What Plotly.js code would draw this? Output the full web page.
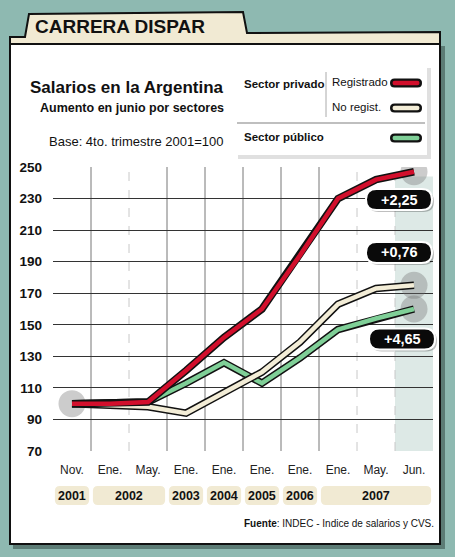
<!DOCTYPE html>
<html><head><meta charset="utf-8">
<script src="https://cdn.plot.ly/plotly-3.0.1.min.js"></script>
<style>html,body{margin:0;padding:0;background:#8eb9b1;} #chart{width:455px;height:557px;}</style>
</head><body><div id="chart"></div>
<script>
// ---- data ----
const months = ['Nov.','Ene.','May.','Ene.','Ene.','Ene.','Ene.','Ene.','May.','Jun.'];
const years  = ['2001','2002','2002','2003','2004','2005','2006','2007','2007','2007'];
const registrado   = [100, 100, 101, 121, 142, 160, 194, 230, 242, 247];
const noRegistrado = [100,  99,  98,  94, 107, 120, 139, 163, 173, 175];
const publico      = [100, 100, 101, 113, 126, 113, 129, 147, 154, 160];
const changes = ['+2,25','+0,76','+4,65'];
const yTicks = [70,90,110,130,150,170,190,210,230,250];

// ---- helpers ----
const W=455,H=557;
const FN="'Liberation Sans',Arial,Helvetica,sans-serif";
const px=x=>x/W, py=y=>1-y/H;
const CELL=38;
function rr(x0,y0,x1,y1,r){
  const P=(x,y)=>px(x)+','+py(y);
  return `M${P(x0+r,y0)} L${P(x1-r,y0)} Q${P(x1,y0)} ${P(x1,y0+r)} L${P(x1,y1-r)} Q${P(x1,y1)} ${P(x1-r,y1)} L${P(x0+r,y1)} Q${P(x0,y1)} ${P(x0,y1-r)} L${P(x0,y0+r)} Q${P(x0,y0)} ${P(x0+r,y0)} Z`;
}
function rrX(x0,x1,y0,y1,r){ // x in data units, y in pixels
  const rx=r/CELL; const P=(x,y)=>x+','+py(y);
  return `M${P(x0+rx,y0)} L${P(x1-rx,y0)} Q${P(x1,y0)} ${P(x1,y0+r)} L${P(x1,y1-r)} Q${P(x1,y1)} ${P(x1-rx,y1)} L${P(x0+rx,y1)} Q${P(x0,y1)} ${P(x0,y1-r)} L${P(x0,y0+r)} Q${P(x0,y0)} ${P(x0+rx,y0)} Z`;
}
function poly(pts){return 'M'+pts.map(p=>px(p[0])+','+py(p[1])).join(' L')+' Z';}
function txt(x,y,text,size,anchor,extra){
  return Object.assign({xref:'paper',yref:'paper',x:px(x),y:py(y),xanchor:anchor||'center',yanchor:'middle',
    showarrow:false,text:text,font:{family:FN,size:size,color:'#111'}},extra||{});
}

const idx = months.map((m,i)=>i);
const shapes=[], annotations=[];

// panel + shadow
shapes.push({type:'rect',xref:'paper',yref:'paper',x0:px(13),x1:px(445),y0:py(549),y1:py(46),fillcolor:'rgba(30,50,45,0.45)',line:{width:0},layer:'below'});
shapes.push({type:'rect',xref:'paper',yref:'paper',x0:px(10),x1:px(440),y0:py(544),y1:py(43),fillcolor:'#ffffff',line:{color:'#111',width:2},layer:'below'});
// folder tab
shapes.push({type:'path',xref:'paper',yref:'paper',path:poly([[10,44],[10,37],[25,37],[29,14],[243,12],[247,33],[440,32],[440,44]]),fillcolor:'#f1ead3',line:{color:'#111',width:2},layer:'below'});

// Jun highlight column
shapes.push({type:'rect',xref:'x',yref:'y',x0:8.5,x1:9.5,y0:70,y1:244,fillcolor:'#dde9e6',line:{width:0},layer:'below'});
// vertical separators
for(let i=0;i<months.length-1;i++){
  const solid = years[i]!==years[i+1];
  shapes.push({type:'line',xref:'x',yref:'y',x0:i+0.5,x1:i+0.5,y0:70,y1:250,
    line:{color:solid?'#777':'#c8c8c8',width:1,dash:solid?'solid':'dash'},layer:'below'});
}

// year pills
const groups=[];
years.forEach((y,i)=>{ if(!groups.length||groups[groups.length-1].year!==y) groups.push({year:y,first:i,last:i}); else groups[groups.length-1].last=i; });
groups.forEach(g=>{
  const x0=g.first-0.45, x1=g.last+0.45;
  shapes.push({type:'path',xref:'x',yref:'paper',path:rrX(x0,x1,486,505,5),fillcolor:'#f1ead3',line:{width:0}});
  annotations.push({xref:'x',yref:'paper',x:(g.first+g.last)/2,y:py(496),xanchor:'center',yanchor:'middle',
    text:'<b>'+g.year+'</b>',showarrow:false,font:{family:FN,size:12.5,color:'#111'}});
});

// legend box
shapes.push({type:'rect',xref:'paper',yref:'paper',x0:px(238),x1:px(431),y0:py(159),y1:py(68),fillcolor:'rgba(0,0,0,0.12)',line:{width:0}});
shapes.push({type:'rect',xref:'paper',yref:'paper',x0:px(235),x1:px(427),y0:py(155),y1:py(65),fillcolor:'#ffffff',line:{width:0}});
shapes.push({type:'line',xref:'paper',yref:'paper',x0:px(326),x1:px(326),y0:py(72),y1:py(117),line:{color:'#aaa',width:1}});
shapes.push({type:'line',xref:'paper',yref:'paper',x0:px(237),x1:px(425),y0:py(123),y1:py(123),line:{color:'#aaa',width:1.5}});
const legendItems=[
  {name:'Registrado',color:'#d20f2c',y:83,x:330,bold:false},
  {name:'No regist.',color:'#f3edd7',y:108,x:330,bold:false},
  {name:'Sector público',color:'#7fcf97',y:138,x:242,bold:true}
];
legendItems.forEach(it=>{
  shapes.push({type:'path',xref:'paper',yref:'paper',path:rr(390,it.y-4.5,422,it.y+4.5,4.5),fillcolor:'#111',line:{width:0}});
  shapes.push({type:'path',xref:'paper',yref:'paper',path:rr(392.5,it.y-2.2,419.5,it.y+2.2,2.2),fillcolor:it.color,line:{width:0}});
  annotations.push(txt(it.x,it.y-1,it.bold?'<b>'+it.name+'</b>':it.name,11.5,'left'));
});
annotations.push(txt(242,84,'<b>Sector privado</b>',11.5,'left'));

// change pills
const pillPos=[[399,199.5],[399,252.5],[402,339]];
changes.forEach((c,i)=>{
  const [cx,cy]=pillPos[i];
  shapes.push({type:'path',xref:'paper',yref:'paper',path:rr(cx-33+2,cy-10.5+2,cx+33+2,cy+10.5+2,10.5),fillcolor:'rgba(0,0,0,0.25)',line:{width:0}});
  shapes.push({type:'path',xref:'paper',yref:'paper',path:rr(cx-33,cy-10.5,cx+33,cy+10.5,10.5),fillcolor:'#0a0a0a',line:{color:'#ffffff',width:2}});
  annotations.push(txt(cx,cy,'<b>'+c+'</b>',14.5,'center',{font:{family:FN,size:14.5,color:'#ffffff'}}));
});

// titles
annotations.push(txt(33,26,'<b>CARRERA DISPAR</b>',19,'left'));
annotations.push(txt(226,88,'<b>Salarios en la Argentina</b>',17,'right'));
annotations.push(txt(226,108,'<b>Aumento en junio por sectores</b>',12.5,'right'));
annotations.push(txt(226,141,'Base: 4to. trimestre 2001=100',13,'right'));
annotations.push(txt(436,523,'<b>Fuente</b>: INDEC - Indice de salarios y CVS.',10,'right'));

// ---- traces ----
const traces=[];
traces.push({x:[0,9,9,9],y:[registrado[0],registrado[9],noRegistrado[9],publico[9]],mode:'markers',type:'scatter',
  marker:{size:27,color:'rgba(110,110,110,0.35)'},hoverinfo:'skip'});
const series=[
  {name:'Sector público',y:publico,color:'#7fcf97'},
  {name:'No regist.',y:noRegistrado,color:'#f3edd7'},
  {name:'Registrado',y:registrado,color:'#d20f2c'}
];
series.forEach(s=>{
  traces.push({x:idx,y:s.y,mode:'lines',type:'scatter',line:{color:'#111',width:7.5},hoverinfo:'skip'});
  traces.push({x:idx,y:s.y,mode:'lines',type:'scatter',name:s.name,line:{color:s.color,width:4.5}});
});

const layout={
  width:W,height:H,margin:{l:0,r:0,t:0,b:0},
  paper_bgcolor:'rgba(0,0,0,0)',plot_bgcolor:'#ffffff',showlegend:false,
  xaxis:{domain:[px(53),px(433)],range:[-0.5,9.5],tickmode:'array',tickvals:idx,ticktext:months,
    showgrid:false,zeroline:false,showline:false,ticks:'',ticklabelstandoff:10,
    tickfont:{family:FN,size:12,color:'#222'},fixedrange:true},
  yaxis:{domain:[py(451),py(167)],range:[70,250],tickmode:'array',tickvals:yTicks,ticktext:yTicks.map(String),
    showgrid:true,gridcolor:'#333',gridwidth:1,zeroline:false,showline:false,ticks:'',ticklabelstandoff:10,
    tickfont:{family:FN,size:13.5,color:'#111',weight:'bold'},fixedrange:true},
  shapes:shapes,annotations:annotations
};
Plotly.newPlot('chart',traces,layout,{displayModeBar:false,staticPlot:true});
</script></body></html>
